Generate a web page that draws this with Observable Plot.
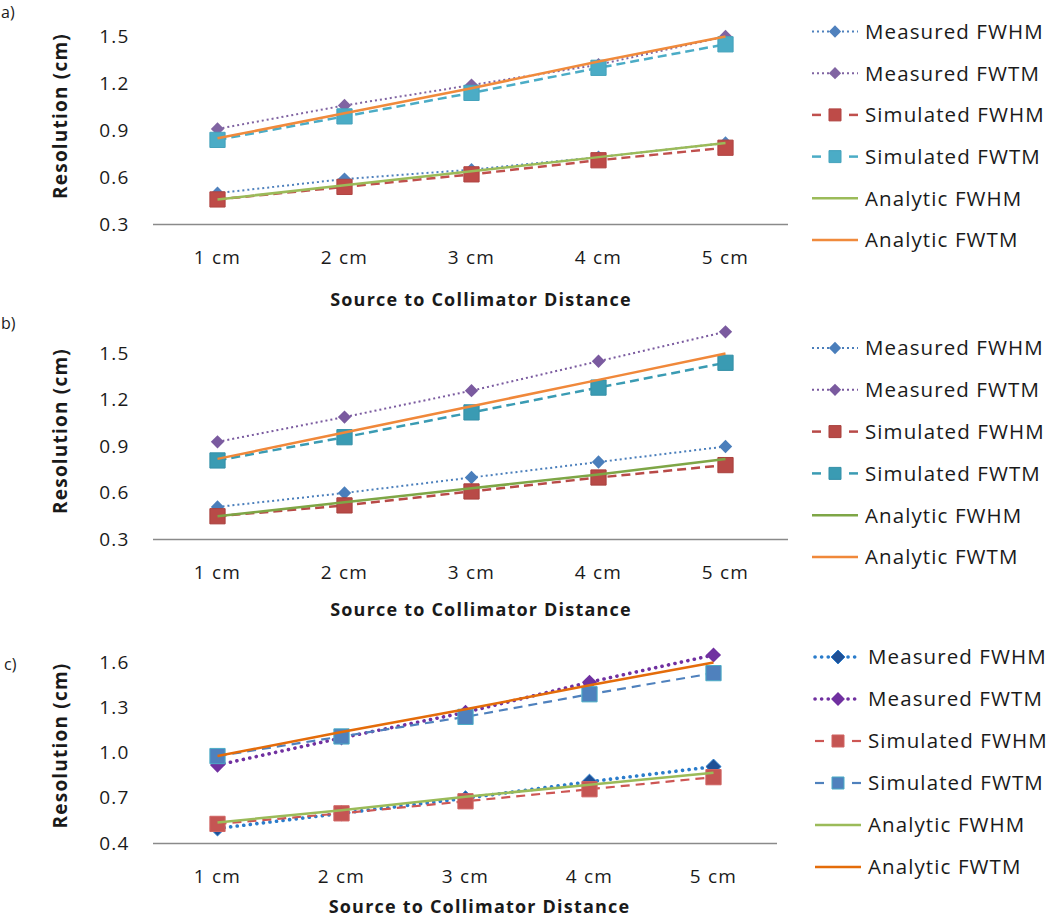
<!DOCTYPE html>
<html>
<head>
<meta charset="utf-8">
<script src="https://cdn.jsdelivr.net/npm/d3@7"></script>
<script src="https://cdn.jsdelivr.net/npm/@observablehq/plot@0.6"></script>
<style>
  html, body { margin: 0; padding: 0; background: #fff; }
  #root { position: relative; width: 1050px; height: 920px; overflow: hidden; font-family: "Open Sans", sans-serif; color: #1a1a1a; }
  .panel { position: absolute; left: 0; }
  .plabel { position: absolute; font-size: 16px; line-height: 16px; }
  .legend { position: absolute; left: 0; top: 0; }
</style>
</head>
<body>
<div id="root"></div>
<script>
// ---------- data ----------
const distances = ["1 cm", "2 cm", "3 cm", "4 cm", "5 cm"];
const seriesNames = ["Measured FWHM", "Measured FWTM", "Simulated FWHM", "Simulated FWTM", "Analytic FWHM", "Analytic FWTM"];
const yTicksAB = [0.3, 0.6, 0.9, 1.2, 1.5];
const yTicksC = [0.4, 0.7, 1.0, 1.3, 1.6];
const xTitle = "Source to Collimator Distance";
const yTitle = "Resolution (cm)";

// panel a)
const aMeasuredFWHM  = [0.50, 0.59, 0.65, 0.73, 0.82];
const aMeasuredFWTM  = [0.91, 1.06, 1.19, 1.32, 1.50];
const aSimulatedFWHM = [0.46, 0.54, 0.62, 0.71, 0.79];
const aSimulatedFWTM = [0.84, 0.99, 1.14, 1.30, 1.45];
const aAnalyticFWHM  = [0.46, 0.55, 0.64, 0.73, 0.82];
const aAnalyticFWTM  = [0.85, 1.01, 1.17, 1.34, 1.50];

// panel b)
const bMeasuredFWHM  = [0.51, 0.60, 0.70, 0.80, 0.90];
const bMeasuredFWTM  = [0.93, 1.09, 1.26, 1.45, 1.64];
const bSimulatedFWHM = [0.45, 0.52, 0.61, 0.70, 0.78];
const bSimulatedFWTM = [0.81, 0.96, 1.12, 1.28, 1.44];
const bAnalyticFWHM  = [0.45, 0.54, 0.63, 0.72, 0.82];
const bAnalyticFWTM  = [0.82, 0.99, 1.16, 1.33, 1.50];

// panel c)
const cMeasuredFWHM  = [0.50, 0.60, 0.70, 0.81, 0.91];
const cMeasuredFWTM  = [0.92, 1.10, 1.27, 1.47, 1.65];
const cSimulatedFWHM = [0.53, 0.60, 0.68, 0.76, 0.84];
const cSimulatedFWTM = [0.98, 1.11, 1.24, 1.39, 1.53];
const cAnalyticFWHM  = [0.54, 0.62, 0.71, 0.79, 0.87];
const cAnalyticFWTM  = [0.98, 1.14, 1.29, 1.45, 1.60];

// ---------- styles ----------
const dotted = {dash: "2 3", width: 2, cap: "butt"};
const dashed = {dash: "9 5", width: 2.5, cap: "butt"};
const solid = {dash: null, width: 2.5, cap: "butt"};
const stylesA = [
  {...dotted, color: "#4F81BD", symbol: "diamond2", r: 6, fill: "#4F81BD", mstroke: "none"},
  {...dotted, color: "#8064A2", symbol: "diamond2", r: 6, fill: "#8064A2", mstroke: "none"},
  {...dashed, color: "#C0504D", symbol: "square", r: 8.6, fill: "#BE4B48", mstroke: "#B04542"},
  {...dashed, color: "#4BACC6", symbol: "square", r: 8.6, fill: "#4BACC6", mstroke: "#45A3BC"},
  {...solid, color: "#9BBB59"},
  {...solid, color: "#F08A3C"}
];
const stylesB = [
  {...dotted, color: "#4A7EBB", symbol: "diamond2", r: 6, fill: "#4A7EBB", mstroke: "none"},
  {...dotted, color: "#7A5A9F", symbol: "diamond2", r: 6, fill: "#7A5A9F", mstroke: "none"},
  {...dashed, color: "#B84A47", symbol: "square", r: 8.6, fill: "#B84A47", mstroke: "#A8403D"},
  {...dashed, color: "#3A9BB3", symbol: "square", r: 8.6, fill: "#3A9BB3", mstroke: "#3590A8"},
  {...solid, color: "#7EA646"},
  {...solid, color: "#F0883A"}
];
const stylesC = [
  {dash: "0.1 6.5", width: 3.6, cap: "round", color: "#2A7CCB", symbol: "diamond2", r: 6.8, fill: "#1F5096", mstroke: "#2A7CCB"},
  {dash: "0.1 6.5", width: 3.6, cap: "round", color: "#7030A0", symbol: "diamond2", r: 6.8, fill: "#7030A0", mstroke: "none"},
  {dash: "9 6", width: 2.2, cap: "butt", color: "#CD5654", symbol: "square", r: 8.6, fill: "#C55553", mstroke: "#D06462"},
  {dash: "9 6", width: 2.2, cap: "butt", color: "#4F81BD", symbol: "square", r: 8.6, fill: "#4F81BD", mstroke: "#4BACC6"},
  {dash: null, width: 2.5, cap: "butt", color: "#9BBB59"},
  {dash: null, width: 2.5, cap: "butt", color: "#E46C0A"}
];

const panels = [
  {label: "a)", labelX: 1, labelY: 4, top: 0, height: 312, axisTop: 7, axisBottom: 224, axisRight: 788,
   yDomain: [0.3, 1.685], yTicks: yTicksAB, titleDx: 10, titleDy: 76,
   values: [aMeasuredFWHM, aMeasuredFWTM, aSimulatedFWHM, aSimulatedFWTM, aAnalyticFWHM, aAnalyticFWTM],
   styles: stylesA, legendX0: 812, legendTextX: 865, legendY0: 31.5, legendStep: 41.7},
  {label: "b)", labelX: 1, labelY: 315, top: 312, height: 306, axisTop: 322, axisBottom: 539, axisRight: 788,
   yDomain: [0.3, 1.7], yTicks: yTicksAB, titleDx: 10, titleDy: 71,
   values: [bMeasuredFWHM, bMeasuredFWTM, bSimulatedFWHM, bSimulatedFWTM, bAnalyticFWHM, bAnalyticFWTM],
   styles: stylesB, legendX0: 812, legendTextX: 865, legendY0: 348, legendStep: 41.8},
  {label: "c)", labelX: 4, labelY: 656, top: 618, height: 302, axisTop: 647, axisBottom: 843, axisRight: 777,
   yDomain: [0.4, 1.7], yTicks: yTicksC, titleDx: 14, titleDy: 64,
   values: [cMeasuredFWHM, cMeasuredFWTM, cSimulatedFWHM, cSimulatedFWTM, cAnalyticFWHM, cAnalyticFWTM],
   styles: stylesC, legendX0: 815, legendTextX: 868, legendY0: 657, legendStep: 42}
];

const root = document.getElementById("root");
const axisGray = "#8a8a8a";

panels.forEach(p => {
  const marks = [];
  seriesNames.forEach((name, i) => {
    const rows = p.values[i].map((v, j) => ({series: name, distance: distances[j], value: v}));
    const st = p.styles[i];
    marks.push(Plot.line(rows, {
      x: "distance", y: "value", stroke: st.color, strokeWidth: st.width,
      strokeDasharray: st.dash || undefined, strokeLinecap: st.cap
    }));
    if (st.symbol) {
      marks.push(Plot.dot(rows, {
        x: "distance", y: "value", symbol: st.symbol, r: st.r,
        fill: st.fill, stroke: st.mstroke, strokeWidth: 1
      }));
    }
  });
  const mt = p.axisTop - p.top;
  const mb = p.height - (p.axisBottom - p.top);
  const chart = Plot.plot({
    width: p.axisRight,
    height: p.height,
    marginLeft: 153,
    marginRight: 0,
    marginTop: mt,
    marginBottom: mb,
    style: {fontFamily: "Open Sans, sans-serif", fontSize: "19px", letterSpacing: "1.2px", color: "#1a1a1a", background: "transparent", overflow: "visible"},
    x: {type: "point", domain: distances, padding: 0.5},
    y: {domain: p.yDomain},
    marks: [
      Plot.axisY({ticks: p.yTicks, tickSize: 0, tickPadding: 24, label: null, tickFormat: d => d.toFixed(1)}),
      Plot.axisX({tickSize: 0, tickPadding: 26, label: null}),
      Plot.ruleY([p.yDomain[0]], {stroke: axisGray, strokeWidth: 1.5}),
      Plot.axisY({ticks: [], tickSize: 0, label: null, line: true, stroke: axisGray, strokeWidth: 1.5}),
      ...marks,
      Plot.text([xTitle], {frameAnchor: "bottom", dy: p.titleDy, dx: p.titleDx, textAnchor: "middle", lineAnchor: "middle", fontWeight: "bold", fontSize: 18, letterSpacing: "0.6px", fill: "#1a1a1a"}),
      Plot.text([yTitle], {frameAnchor: "left", dx: -93, rotate: -90, textAnchor: "middle", lineAnchor: "middle", fontWeight: "bold", fontSize: 19, letterSpacing: "2.6px", fill: "#1a1a1a"})
    ]
  });
  const wrap = document.createElement("div");
  wrap.className = "panel";
  wrap.style.top = p.top + "px";
  wrap.appendChild(chart);
  root.appendChild(wrap);

  const lab = document.createElement("div");
  lab.className = "plabel";
  lab.style.left = p.labelX + "px";
  lab.style.top = p.labelY + "px";
  lab.textContent = p.label;
  root.appendChild(lab);
});

// ---------- legends ----------
const legendSvg = d3.select(root).append("svg")
  .attr("class", "legend").attr("width", 1050).attr("height", 920);
panels.forEach(p => {
  seriesNames.forEach((name, i) => {
    const st = p.styles[i];
    const y = p.legendY0 + i * p.legendStep;
    const x0 = p.legendX0, x1 = p.legendX0 + 46, xm = (x0 + x1) / 2;
    const g = legendSvg.append("g");
    if (st.symbol === "square") {
      [[x0, x0 + 9], [x1 - 9, x1]].forEach(([a, b]) => {
        g.append("line").attr("x1", a).attr("x2", b).attr("y1", y).attr("y2", y)
          .attr("stroke", st.color).attr("stroke-width", st.width);
      });
    } else {
      g.append("line").attr("x1", x0).attr("x2", x1).attr("y1", y).attr("y2", y)
        .attr("stroke", st.color).attr("stroke-width", st.width)
        .attr("stroke-dasharray", st.dash).attr("stroke-linecap", st.cap);
    }
    if (st.symbol) {
      const sym = st.symbol === "square" ? d3.symbolSquare : d3.symbolDiamond2;
      const size = Math.PI * st.r * st.r * (st.symbol === "square" ? 0.62 : 0.85);
      g.append("path").attr("d", d3.symbol(sym, size)()).attr("transform", `translate(${xm},${y})`)
        .attr("fill", st.fill).attr("stroke", st.mstroke === "none" ? null : st.mstroke);
    }
    g.append("text").attr("x", p.legendTextX).attr("y", y).attr("dy", "0.36em")
      .attr("font-family", "Open Sans, sans-serif").attr("font-size", 20.5)
      .attr("letter-spacing", "1.1px").attr("fill", "#1a1a1a").text(name);
  });
});
</script>
</body>
</html>
